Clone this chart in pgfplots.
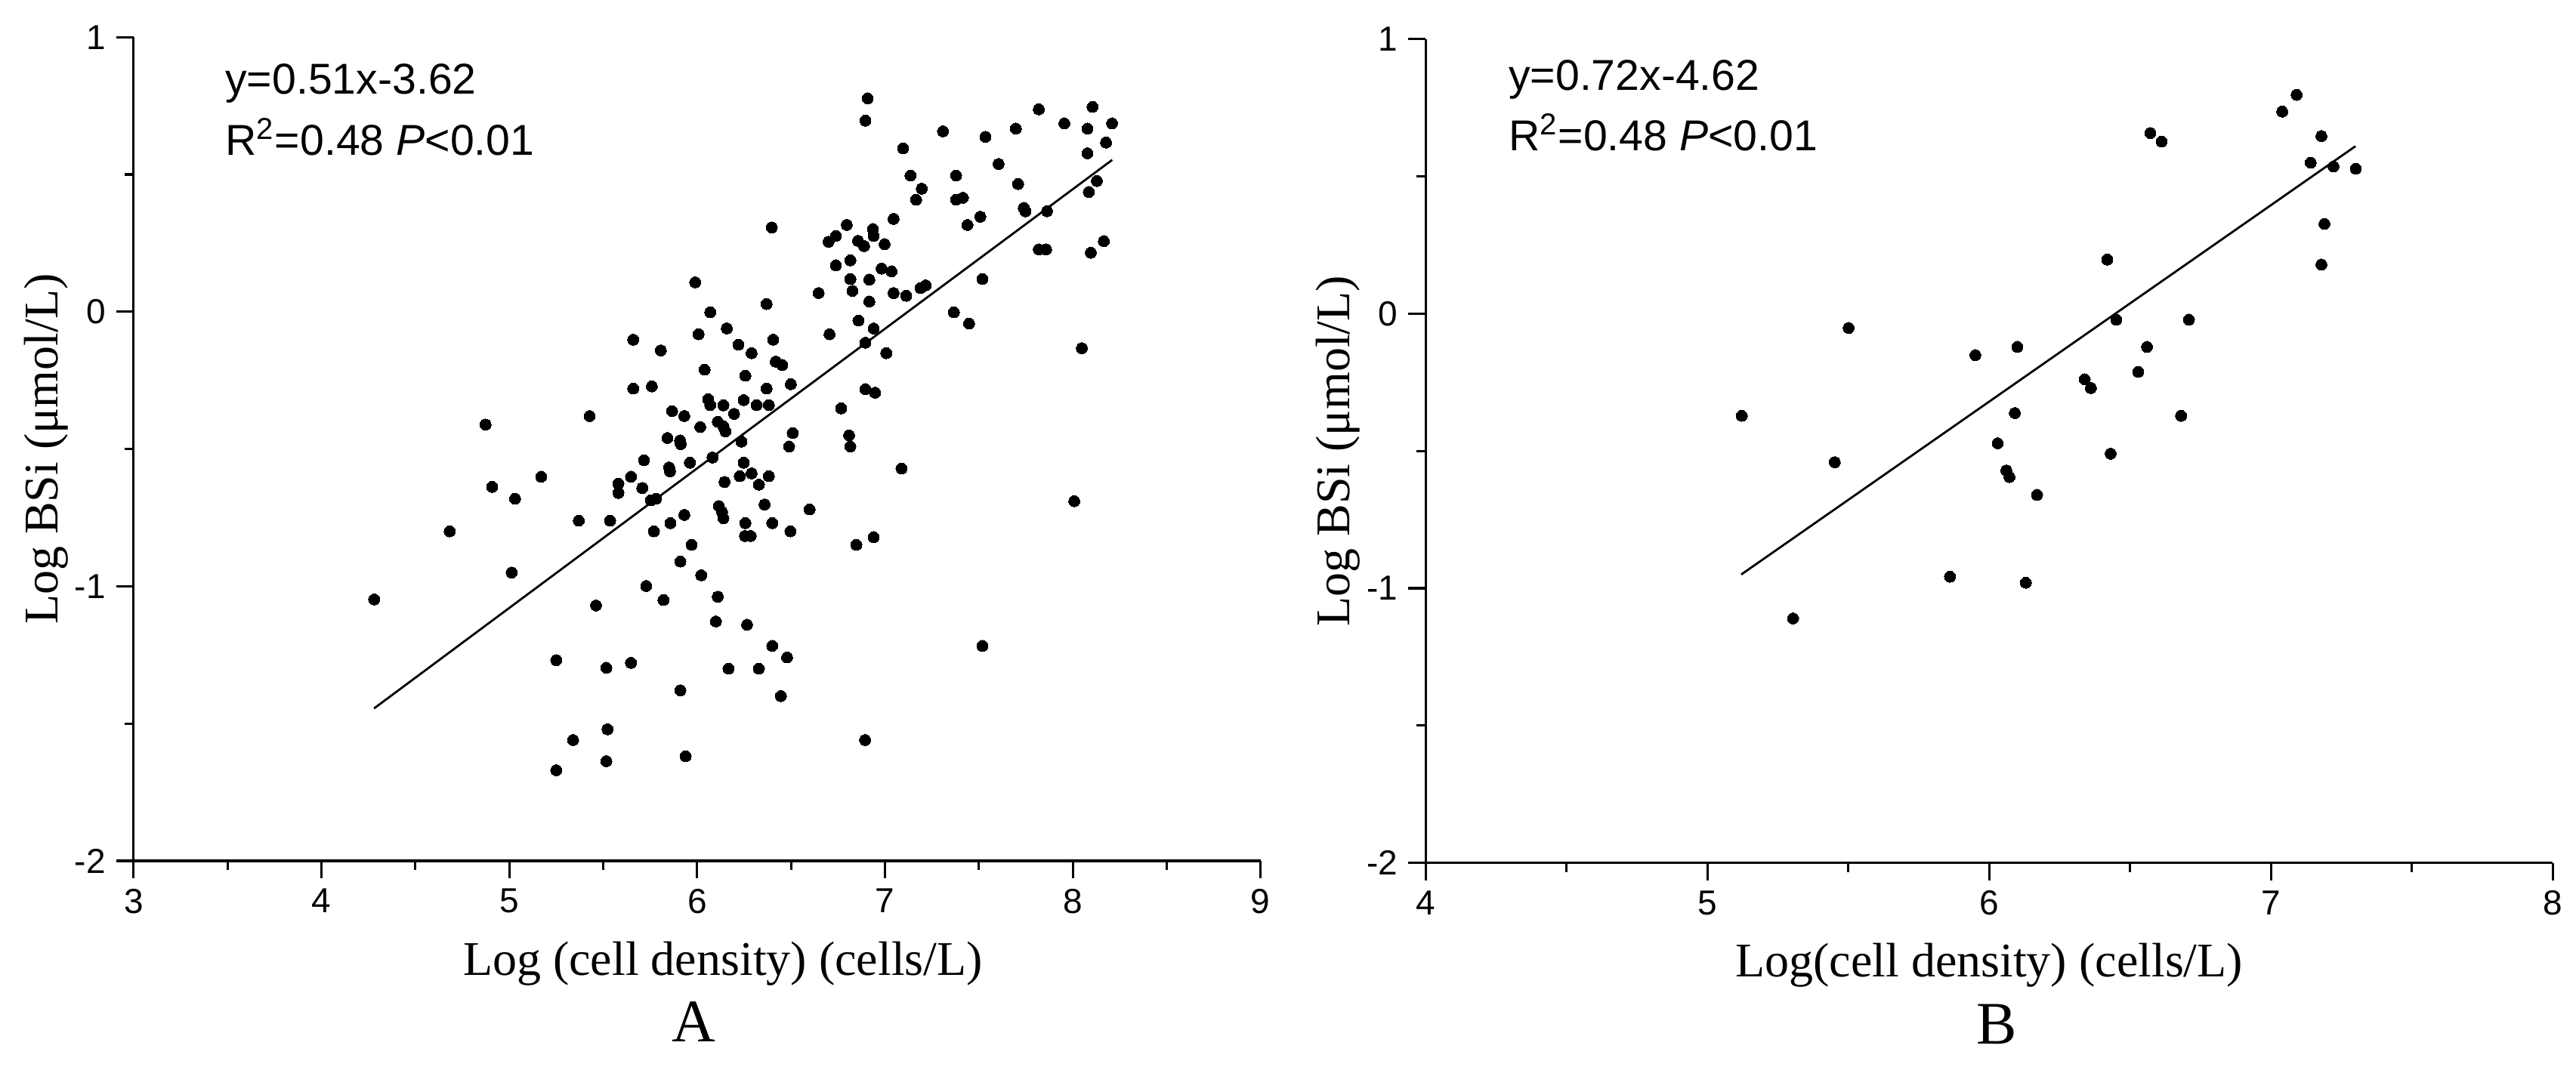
\documentclass[border=0pt]{standalone}
\usepackage{fontspec}
\setmainfont{Liberation Serif}
\setsansfont{Liberation Sans}
\usepackage{pgfplots}
\pgfplotsset{compat=1.18}

\pgfplotsset{
  bsiaxis/.style={
    scale only axis,
    width=373pt, height=272.7pt,
    axis lines=left,
    axis line style={-, black, line width=0.8pt},
    tick align=outside,
    major tick length=5.75pt, minor tick length=3pt,
    tick style={black, line width=0.8pt},
    minor x tick num=1, minor y tick num=1,
    ymin=-2, ymax=1,
    ytick={-2,-1,0,1}, yticklabels={-2,-1,0,1},
    tick label style={font=\fontsize{11.5}{13}\sffamily},
    label style={font=\fontsize{16}{18}\selectfont},
    ylabel={Log BSi (μmol/L)},
    ylabel style={at={(axis description cs:-0.0675,0.5)}, anchor=base},
    clip=false,
  },
  dots/.style={only marks, mark=*, mark size=1.85pt, black, mark options={fill=black, draw=black, line width=0pt}},
  fit/.style={black, line width=0.7pt, no marks},
}
\tikzset{
  note/.style={anchor=base west, font=\fontsize{14.3}{16}\sffamily},
  panel/.style={anchor=base, font=\fontsize{20}{24}\selectfont},
}

\begin{document}
\begin{tikzpicture}
\path[use as bounding box] (0,0) rectangle (852.5pt,353.25pt);

% panel A
\begin{axis}[bsiaxis,
  at={(44.2pt,68.25pt)}, anchor=south west,
  xmin=3, xmax=9,
  xtick={3,4,5,6,7,8,9}, xticklabels={3,4,5,6,7,8,9},
  xlabel={Log (cell density) (cells/L)},
  xlabel style={at={(axis description cs:0.523,0)}, anchor=base, yshift=-37.8pt},
]
\addplot[dots] coordinates {
(4.874,-0.411) (5.428,-0.380) (4.909,-0.638) (5.031,-0.681) (5.170,-0.601) (5.370,-0.761)
(4.683,-0.800) (5.013,-0.950) (4.281,-1.048) (5.462,-1.070) (5.250,-1.269) (5.340,-1.560) (5.250,-1.670)
(5.770,-0.800) (6.255,-0.817) (6.285,-0.817) (6.497,-0.800) (6.848,-0.849) (6.940,-0.821)
(5.971,-0.849) (5.911,-0.910) (6.022,-0.960) (5.729,-0.999) (5.821,-1.050) (6.110,-1.038)
(6.100,-1.128) (6.266,-1.140) (6.400,-1.217) (6.479,-1.259) (5.517,-1.297) (5.648,-1.279)
(6.167,-1.300) (6.329,-1.300) (5.911,-1.379) (6.446,-1.400) (5.523,-1.521) (5.517,-1.637)
(5.939,-1.619) (6.894,-1.560) (7.519,-1.217)
(6.908,0.777) (6.896,0.696) (7.819,0.737) (8.105,0.746) (7.955,0.686) (8.078,0.667)
(8.209,0.686) (7.697,0.667) (7.309,0.657) (7.535,0.637) (7.097,0.595) (8.177,0.616)
(8.078,0.577) (7.605,0.538) (7.136,0.496) (7.379,0.496) (7.709,0.465) (7.196,0.448)
(7.166,0.408) (7.379,0.408) (7.415,0.415) (8.128,0.476) (8.085,0.436) (7.739,0.378)
(7.748,0.366) (7.863,0.366) (7.508,0.346) (7.439,0.316) (7.046,0.338) (6.797,0.316)
(6.398,0.307) (6.739,0.276) (6.700,0.255) (6.936,0.301) (6.940,0.276) (6.857,0.258)
(6.889,0.239) (6.998,0.246) (8.165,0.257) (8.096,0.215) (7.819,0.227) (7.858,0.227)
(6.739,0.169) (6.816,0.187) (6.982,0.157) (7.035,0.147) (6.816,0.119) (6.917,0.117)
(6.827,0.076) (6.647,0.068) (7.046,0.068) (7.113,0.058) (7.189,0.086) (7.217,0.096)
(7.519,0.119) (5.990,0.107) (6.370,0.028) (6.917,0.037) (6.070,-0.002) (7.367,-0.002)
(7.448,-0.043) (6.859,-0.032) (6.940,-0.061) (6.158,-0.061) (6.008,-0.082) (5.660,-0.102)
(6.405,-0.102) (6.705,-0.082) (6.220,-0.120) (6.896,-0.113) (5.807,-0.141) (6.290,-0.151)
(7.007,-0.151) (6.040,-0.211) (6.419,-0.182) (6.453,-0.194) (6.257,-0.233) (5.660,-0.280)
(5.759,-0.272) (6.370,-0.280) (6.499,-0.264) (6.896,-0.282) (6.947,-0.295) (8.048,-0.133)
(5.867,-0.362) (5.932,-0.380) (6.059,-0.319) (6.070,-0.340) (6.140,-0.341) (6.248,-0.322)
(6.317,-0.340) (6.382,-0.340) (6.197,-0.372) (6.767,-0.352) (6.110,-0.401) (6.140,-0.417)
(6.151,-0.436) (6.017,-0.420) (5.842,-0.460) (5.909,-0.469) (5.913,-0.482) (6.236,-0.473)
(6.509,-0.442) (6.490,-0.491) (6.809,-0.450) (6.816,-0.491) (5.717,-0.541) (5.962,-0.550)
(5.851,-0.567) (5.856,-0.581) (5.648,-0.601) (6.082,-0.531) (6.248,-0.550) (6.146,-0.620)
(6.227,-0.599) (6.290,-0.589) (6.382,-0.599) (6.329,-0.630) (5.581,-0.626) (5.581,-0.660)
(5.708,-0.642) (7.088,-0.571) (5.754,-0.687) (5.782,-0.681) (6.116,-0.708) (6.133,-0.730)
(6.140,-0.752) (6.359,-0.702) (6.599,-0.720) (8.008,-0.690) (5.537,-0.761) (5.858,-0.770)
(5.932,-0.740) (6.257,-0.770) (6.400,-0.770)
};
\addplot[fit] coordinates {(4.28,-1.445) (8.21,0.553)};
\node[note] at (axis cs:3.432,0.792) {y=0.51x-3.62};
\node[note] at (axis cs:3.432,0.571) {R\textsuperscript{2}=0.48 \textit{P}<0.01};
\node[panel, yshift=-60pt] at (axis description cs:0.497,0) {A};
\end{axis}

% panel B
\begin{axis}[bsiaxis,
  at={(471.8pt,67.6pt)}, anchor=south west,
  xmin=4, xmax=8,
  xtick={4,5,6,7,8}, xticklabels={4,5,6,7,8},
  xlabel={Log(cell density) (cells/L)},
  xlabel style={at={(axis description cs:0.5,0)}, anchor=base, yshift=-37.8pt},
]
\addplot[dots] coordinates {
(5.501,-0.052) (5.122,-0.372) (5.452,-0.541) (5.304,-1.110)
(7.091,0.797) (7.040,0.736) (6.572,0.658) (6.612,0.627) (7.179,0.647) (7.141,0.550)
(7.222,0.536) (7.301,0.528) (7.190,0.327) (7.179,0.179) (6.419,0.197) (6.451,-0.022)
(6.709,-0.022) (5.951,-0.151) (6.100,-0.121) (6.560,-0.121) (6.529,-0.212) (6.339,-0.239)
(6.361,-0.271) (6.091,-0.362) (6.681,-0.372) (6.030,-0.472) (6.431,-0.510) (6.061,-0.571)
(6.072,-0.595) (6.170,-0.660) (5.861,-0.958) (6.130,-0.980)
};
\addplot[fit] coordinates {(5.12,-0.95) (7.30,0.61)};
\node[note] at (axis cs:4.257,0.814) {y=0.72x-4.62};
\node[note] at (axis cs:4.257,0.593) {R\textsuperscript{2}=0.48 \textit{P}<0.01};
\node[panel, yshift=-60pt] at (axis description cs:0.507,0) {B};
\end{axis}
\end{tikzpicture}
\end{document}
